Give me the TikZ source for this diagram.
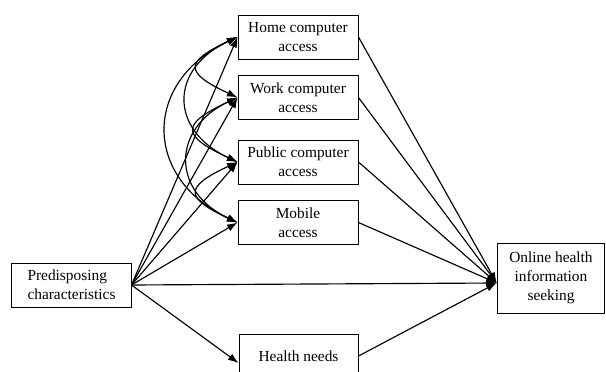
\documentclass[tikz,border=0pt]{standalone}
\usepackage{fontspec}
\setmainfont{Liberation Serif}
\usepackage{tikz}
\usetikzlibrary{arrows.meta, positioning, calc}

\begin{document}
\begin{tikzpicture}[
  x=0.65pt, y=-0.65pt,
  font=\fontsize{10}{12.5}\selectfont,
  box/.style={draw, line width=0.6pt, minimum width=78pt, minimum height=28.6pt, align=center, inner sep=1pt},
  path/.style={-{Latex[length=2.4mm,width=1.7mm]}, line width=0.75pt},
  cov/.style={{Latex[length=2.4mm,width=1.7mm]}-{Latex[length=2.4mm,width=1.7mm]}, line width=0.75pt}
]
\useasboundingbox (0,0) rectangle (606,372);

% Access boxes in the middle
\node[box] (home) at (298,37) {Home computer\\access};
\node[box] (work) at (298,97.5) {Work computer\\access};
\node[box] (pub) at (298,162) {Public computer\\access};
\node[box] (mob) at (298,222.5) {Mobile\\access};
\node[box, minimum width=77.4pt] (need) at (298.5,356) {Health needs};

% Outer boxes
\node[box, minimum width=77.4pt, align=left] (pre) at (71.5,285) {Predisposing\\characteristics};
\node[box, minimum width=70pt, minimum height=45.5pt] (ohs) at (551,278) {Online health\\information\\seeking};
\coordinate (ohsin) at ($(ohs.west)+(0,5)$);
\coordinate (needin) at ($(need.west)+(0,7)$);

% Paths from predisposing characteristics
\draw[path] (pre.east) -- (home.west);
\draw[path] (pre.east) -- (work.west);
\draw[path] (pre.east) -- (pub.west);
\draw[path] (pre.east) -- (mob.west);
\draw[path] (pre.east) -- (needin);
\draw[path] (pre.east) -- (ohsin);

% Paths to online health information seeking
\draw[path] (home.east) -- (ohsin);
\draw[path] (work.east) -- (ohsin);
\draw[path] (pub.east) -- (ohsin);
\draw[path] (mob.east) -- (ohsin);
\draw[path] (need.east) -- (ohsin);

% Correlations among access types
\draw[cov] (home.west) to[out=205,in=155,looseness=2.5] (work.west);
\draw[cov] (home.west) to[out=205,in=155,looseness=1.55] (pub.west);
\draw[cov] (home.west) to[out=205,in=155,looseness=1.45] (mob.west);
\draw[cov] (work.west) to[out=205,in=155,looseness=2.5] (pub.west);
\draw[cov] (work.west) to[out=205,in=155,looseness=1.5] (mob.west);
\draw[cov] (pub.west) to[out=205,in=155,looseness=2.5] (mob.west);
\end{tikzpicture}
\end{document}
